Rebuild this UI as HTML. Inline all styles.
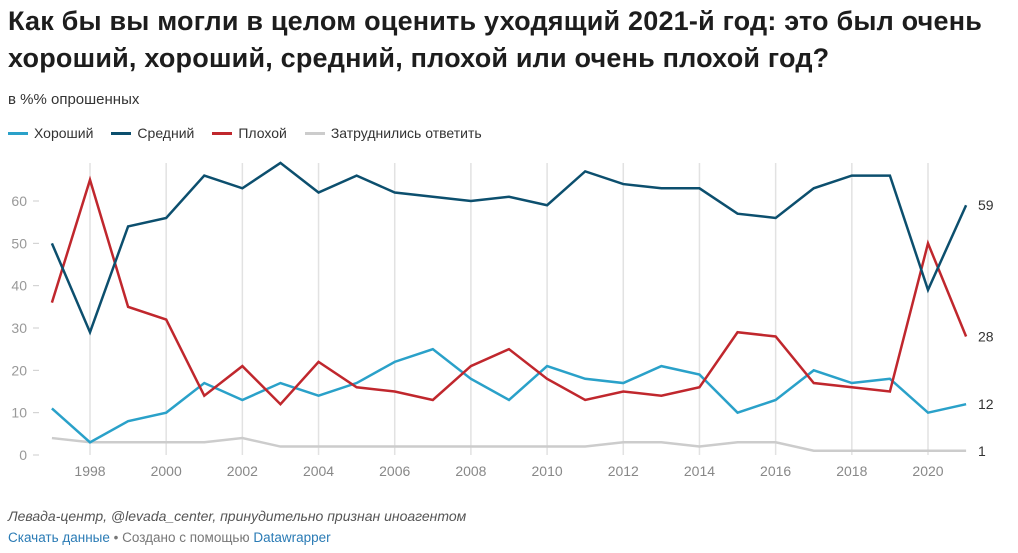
<!DOCTYPE html>
<html><head><meta charset="utf-8"><style>
body{margin:0;background:#fff;width:1018px;height:553px;overflow:hidden;font-family:"Liberation Sans",sans-serif;}
h1{position:absolute;left:8px;top:3px;margin:0;font-size:27px;letter-spacing:0.2px;line-height:37px;font-weight:bold;color:#1d1d1d;width:1010px;white-space:nowrap}
.sub{position:absolute;left:8px;top:91px;font-size:15px;color:#333}
.legend{position:absolute;left:8px;top:125px;font-size:14px;color:#333;display:flex;gap:18px}
.legend span{display:flex;align-items:center}
.legend i{display:inline-block;width:20px;height:3px;margin-right:6px}
.src{position:absolute;left:8px;top:508px;font-size:14px;font-style:italic;color:#555}
.foot{position:absolute;left:8px;top:530px;font-size:13.5px;color:#777}
.foot a{color:#2a7bb5;text-decoration:none}
</style></head><body>
<h1>Как бы вы могли в целом оценить уходящий 2021-й год: это был очень<br>хороший, хороший, средний, плохой или очень плохой год?</h1>
<div class="sub">в %% опрошенных</div>
<div class="legend">
<span><i style="background:#2aa1c9"></i>Хороший</span>
<span><i style="background:#0c4f6e"></i>Средний</span>
<span><i style="background:#c0272d"></i>Плохой</span>
<span><i style="background:#cccccc"></i>Затруднились ответить</span>
</div>
<svg id="chart" width="1018" height="553" style="position:absolute;left:0;top:0"></svg>
<div class="src">Левада-центр, @levada_center, принудительно признан иноагентом</div>
<div class="foot"><a href="#">Скачать данные</a> • Создано с помощью <a href="#">Datawrapper</a></div>
<script>
const years=[1997,1998,1999,2000,2001,2002,2003,2004,2005,2006,2007,2008,2009,2010,2011,2012,2013,2014,2015,2016,2017,2018,2019,2020,2021];
const good=[11,3,8,10,17,13,17,14,17,22,25,18,13,21,18,17,21,19,10,13,20,17,18,10,12];
const average=[50,29,54,56,66,63,69,62,66,62,61,60,61,59,67,64,63,63,57,56,63,66,66,39,59];
const bad=[36,65,35,32,14,21,12,22,16,15,13,21,25,18,13,15,14,16,29,28,17,16,15,50,28];
const unsure=[4,3,3,3,3,4,2,2,2,2,2,2,2,2,2,3,3,2,3,3,1,1,1,1,1];
const yTicks=[0,10,20,30,40,50,60];
const xTicks=[1998,2000,2002,2004,2006,2008,2010,2012,2014,2016,2018,2020];
const NS="http://www.w3.org/2000/svg";
const svg=document.getElementById('chart');
const x=y=>90+(y-1998)*(928-90)/22;
const yv=v=>455-v*(455-201)/60;
function mk(t,a){const e=document.createElementNS(NS,t);for(const k in a)e.setAttribute(k,a[k]);svg.appendChild(e);return e;}
xTicks.forEach(t=>{
 const l=mk('line',{x1:x(t),x2:x(t),y1:163,y2:455,stroke:'#e2e2e2','stroke-width':1.5});
 
 
 const tx=mk('text',{x:x(t),y:476,'text-anchor':'middle','font-size':14,fill:'#888'});
 tx.textContent=t;
 
 
});
yTicks.forEach(t=>{
 const tx=mk('text',{x:27,y:yv(t)+5,'text-anchor':'end','font-size':14,fill:'#999'});
 tx.textContent=t;
 
 
 const l=mk('line',{x1:33,x2:39,y1:yv(t),y2:yv(t),stroke:'#ccc','stroke-width':1});
 
 
});
const series=[[unsure,'#cccccc','unsure'],[good,'#2aa1c9','good'],[bad,'#c0272d','bad'],[average,'#0c4f6e','average']];
series.forEach(([d,c,n])=>{
 const p=mk('polyline',{points:d.map((v,i)=>x(years[i])+','+yv(v)).join(' '),fill:'none',stroke:c,'stroke-width':2.5,'stroke-linejoin':'miter'});
 
 
 const last=d[d.length-1];
 const tx=mk('text',{x:978,y:yv(last)+5,'font-size':14,fill:'#333'});
 tx.textContent=last;
 
 
});
</script>
</body></html>
